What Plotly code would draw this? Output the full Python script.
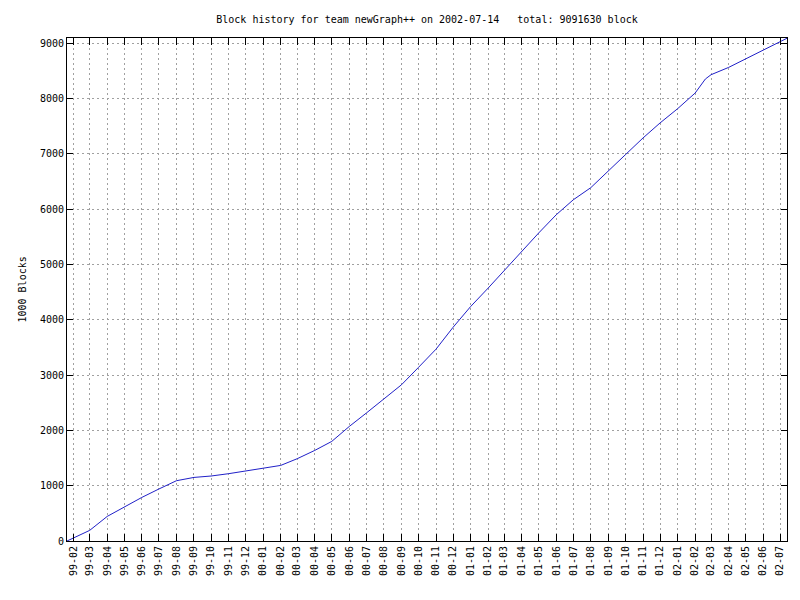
import plotly.graph_objects as go

dates = [
    "1999-01-20", "1999-02-01", "1999-03-01", "1999-04-01", "1999-05-01", "1999-06-01",
    "1999-07-01", "1999-08-01", "1999-09-01", "1999-10-01", "1999-11-01", "1999-12-01",
    "2000-01-01", "2000-02-01", "2000-03-01", "2000-04-01", "2000-05-01", "2000-06-01",
    "2000-07-01", "2000-08-01", "2000-09-01", "2000-10-01", "2000-11-01", "2000-12-01",
    "2001-01-01", "2001-02-01", "2001-03-01", "2001-04-01", "2001-05-01", "2001-06-01",
    "2001-07-01", "2001-08-01", "2001-09-01", "2001-10-01", "2001-11-01", "2001-12-01",
    "2002-01-01", "2002-02-01", "2002-02-19", "2002-03-01", "2002-04-01", "2002-05-01",
    "2002-06-01", "2002-07-01", "2002-07-13",
]
blocks_k = [
    0, 54, 192, 445, 620, 788,
    940, 1090, 1150, 1175, 1217, 1266,
    1307, 1367, 1488, 1638, 1801, 2072,
    2314, 2565, 2825, 3140, 3470, 3865,
    4240, 4575, 4890, 5237, 5570, 5900,
    6170, 6390, 6684, 6986, 7288, 7559,
    7817, 8101, 8354, 8432, 8564, 8716,
    8872, 9016, 9091.63,
]

title_text = "Block history for team newGraph++ on 2002-07-14   total: 9091630 block"
y_label = "1000 Blocks"
y_ticks = [0, 1000, 2000, 3000, 4000, 5000, 6000, 7000, 8000, 9000]

font = dict(family="DejaVu Sans Mono", size=10, color="black")

fig = go.Figure()
fig.add_trace(go.Scatter(
    x=dates, y=blocks_k, mode="lines",
    line=dict(color="#2020c8", width=1),
    showlegend=False,
))

fig.update_layout(
    width=800, height=600,
    margin=dict(l=67, r=13, t=38, b=59, pad=0),
    paper_bgcolor="white", plot_bgcolor="white",
    font=font,
    title=dict(text=title_text, x=(67 + 787) / 2 / 800, xanchor="center",
               y=1 - 19 / 600, yanchor="middle", font=font),
    annotations=[dict(
        text=y_label, xref="paper", yref="paper",
        x=(22 - 67) / 720, y=0.5, xanchor="center", yanchor="middle",
        textangle=-90, showarrow=False, font=font,
    )],
)

fig.update_xaxes(
    type="date", range=["1999-01-20", "2002-07-13"],
    tick0="1999-02-01", dtick="M1", tickformat="%y-%m", tickangle=-90,
    ticks="inside", ticklen=7, tickcolor="black", tickwidth=1,
    showline=True, linecolor="black", linewidth=1, mirror="ticks",
    showgrid=True, gridcolor="#a0a0a0", griddash="2px,3px", gridwidth=1,
    zeroline=False, tickfont=font,
)
fig.update_yaxes(
    range=[0, 9096], tickvals=y_ticks, ticktext=[str(v) for v in y_ticks],
    ticks="inside", ticklen=6, tickcolor="black", tickwidth=1,
    showline=True, linecolor="black", linewidth=1, mirror="ticks",
    showgrid=True, gridcolor="#a0a0a0", griddash="2px,3px", gridwidth=1,
    zeroline=False, tickfont=font,
)

fig.write_html("out.html")
